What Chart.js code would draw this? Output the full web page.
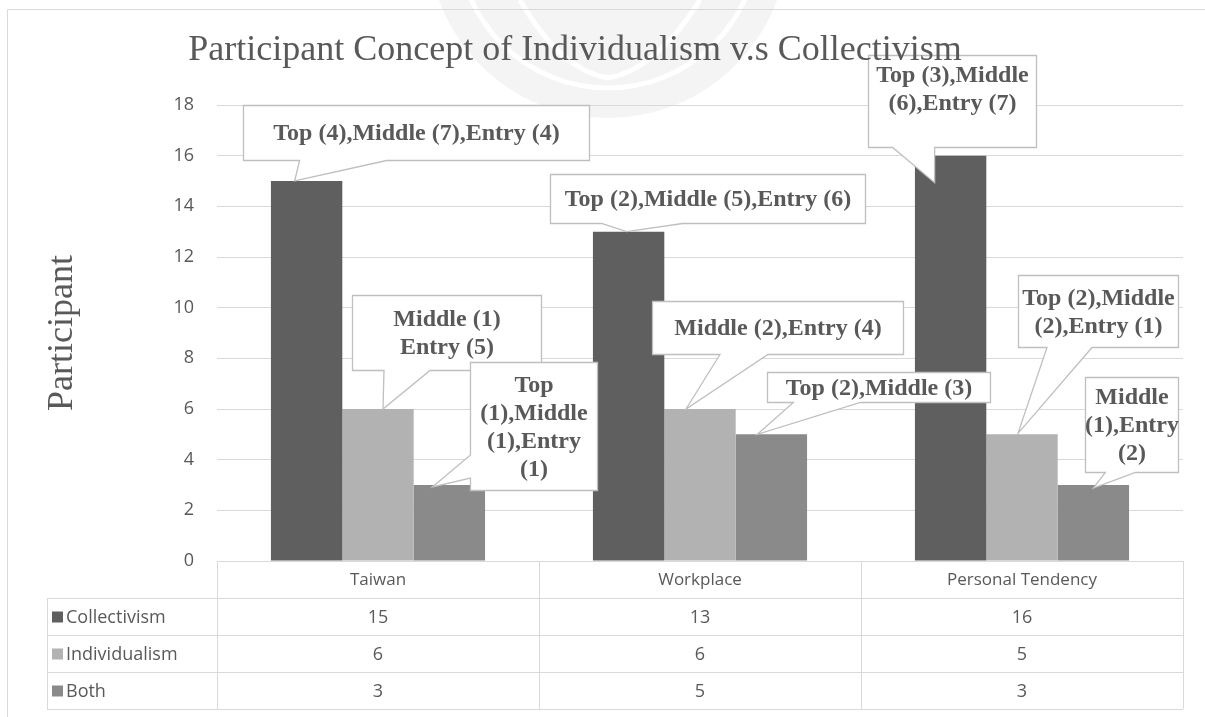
<!DOCTYPE html>
<html><head><meta charset="utf-8">
<script src="https://cdn.jsdelivr.net/npm/chart.js@4.4.1/dist/chart.umd.min.js"></script>
<style>html,body{margin:0;padding:0;background:#fff;}canvas{display:block;}</style>
</head><body>
<canvas id="c" width="1205" height="717"></canvas>
<script>
// ---- data ----
const categories = ["Taiwan", "Workplace", "Personal Tendency"];
const seriesNames = ["Collectivism", "Individualism", "Both"];
const collectivism = [15, 13, 16];
const individualism = [6, 6, 5];
const both = [3, 5, 3];
const collectivismNotes = ["Top (4),Middle (7),Entry (4)", "Top (2),Middle (5),Entry (6)", "Top (3),Middle\n(6),Entry (7)"];
const individualismNotes = ["Middle (1)\nEntry (5)", "Middle (2),Entry (4)", "Top (2),Middle\n(2),Entry (1)"];
const bothNotes = ["Top\n(1),Middle\n(1),Entry\n(1)", "Top (2),Middle (3)", "Middle\n(1),Entry\n(2)"];
const yMin = 0, yMax = 18, yStep = 2;
const chartTitle = "Participant Concept of Individualism v.s Collectivism";
const yTitle = "Participant";

// ---- styles ----
const colors = ["#5f5f5f", "#b2b2b2", "#8a8a8a"];
const textColor = "#595959";
const lineColor = "#d9d9d9";
const uiFont = "'Open Sans', sans-serif";
const serif = "'Liberation Serif', 'Times New Roman', serif";

// callout geometry relative to the top-centre of the bar it points at
const calloutLayout = [
  [ {box:[-64,-76,282,-21], side:'bottom', base:[-7,80], tip:[-12,0]},
    {box:[-79,-58,236,-9], side:'bottom', base:[-27,54], tip:[-2,0]},
    {box:[-83,-101,85,-9], side:'bottom', base:[-58,-16], tip:[-16,27], textTop:19} ],
  [ {box:[-26,-114,163,-39], side:'bottom', base:[6,52], tip:[5,0]},
    {box:[-48,-108,203,-55], side:'bottom', base:[20,68], tip:[-14,0]},
    {box:[-4,-159,156,-87], side:'bottom', base:[25,70], tip:[-4,-1]} ],
  [ {box:[21,-123,148,5], side:'left', base:[-30,-7], tip:[-17,2]},
    {box:[-4,-62,219,-32], side:'bottom', base:[22,89], tip:[-14,0]},
    {box:[-8,-108,85,-13], side:'bottom', base:[12,42], tip:[0,3]} ]
];
const notes = [collectivismNotes, individualismNotes, bothNotes];
const seriesValues = [collectivism, individualism, both];

const decor = {
  id: 'decor',
  beforeDraw(chart) {
    const c = chart.ctx;
    c.save();
    c.fillStyle = '#fff';
    c.fillRect(0, 0, chart.width, chart.height);
    // faint watermark emblem behind the chart
    c.fillStyle = '#f4f4f4';
    c.beginPath(); c.arc(608, -62, 180, 0, Math.PI * 2); c.fill();
    c.strokeStyle = '#ffffff'; c.lineWidth = 5;
    c.beginPath(); c.arc(608, -62, 150, 0, Math.PI * 2); c.stroke();
    c.beginPath();
    c.moveTo(520, 0); c.quadraticCurveTo(560, 70, 608, 78); c.quadraticCurveTo(656, 70, 700, 0);
    c.stroke();
    // frame
    c.strokeStyle = lineColor; c.lineWidth = 1;
    c.beginPath();
    c.moveTo(7.5, chart.height); c.lineTo(7.5, 9.5); c.lineTo(chart.width, 9.5);
    c.stroke();
    c.restore();
  },
  afterDraw(chart) {
    const c = chart.ctx, ca = chart.chartArea;
    // ---- data table ----
    const n = categories.length;
    const catW = (ca.right - ca.left) / n;
    const rowH = 37, top = ca.bottom, legLeft = 47;
    const nRows = seriesNames.length;
    const bottom = top + rowH * (nRows + 1);
    c.save();
    c.strokeStyle = lineColor; c.lineWidth = 1;
    c.beginPath();
    c.moveTo(ca.left, top + 0.5); c.lineTo(ca.right, top + 0.5);
    for (let r = 1; r <= nRows + 1; r++) {
      const y = Math.round(top + r * rowH) + 0.5;
      c.moveTo(legLeft, y); c.lineTo(ca.right, y);
    }
    for (let k = 0; k <= n; k++) {
      const x = Math.round(ca.left + k * catW) + 0.5;
      c.moveTo(x, top); c.lineTo(x, bottom);
    }
    c.moveTo(legLeft + 0.5, top + rowH); c.lineTo(legLeft + 0.5, bottom);
    c.stroke();
    c.fillStyle = textColor;
    c.font = "17px " + uiFont;
    c.textAlign = 'center'; c.textBaseline = 'middle';
    categories.forEach((cat, k) => {
      c.fillText(cat, chart.scales.x.getPixelForValue(k), top + rowH / 2 + 1);
    });
    c.font = "18px " + uiFont;
    seriesNames.forEach((s, r) => {
      const yc = top + (r + 1.5) * rowH + 1;
      c.fillStyle = colors[r];
      c.fillRect(legLeft + 5, yc - 6, 11, 11);
      c.fillStyle = textColor;
      c.textAlign = 'left';
      c.fillText(s, legLeft + 19, yc);
      c.textAlign = 'center';
      seriesValues[r].forEach((v, k) => {
        c.fillText(String(v), chart.scales.x.getPixelForValue(k), yc);
      });
    });
    // ---- callouts ----
    c.font = "bold 24px " + serif;
    notes.forEach((arr, d) => {
      const meta = chart.getDatasetMeta(d);
      arr.forEach((txt, k) => {
        const bar = meta.data[k];
        const L = calloutLayout[d][k];
        const bx = bar.x, by = bar.y;
        const x1 = Math.round(bx + L.box[0]) + 0.5, y1 = Math.round(by + L.box[1]) + 0.5;
        const x2 = Math.round(bx + L.box[2]) + 0.5, y2 = Math.round(by + L.box[3]) + 0.5;
        const tx = bx + L.tip[0], ty = by + L.tip[1];
        c.beginPath();
        c.moveTo(x1, y1); c.lineTo(x2, y1); c.lineTo(x2, y2);
        if (L.side === 'bottom') {
          c.lineTo(bx + L.base[1], y2); c.lineTo(tx, ty); c.lineTo(bx + L.base[0], y2);
          c.lineTo(x1, y2);
        } else {
          c.lineTo(x1, y2);
          c.lineTo(x1, by + L.base[1]); c.lineTo(tx, ty); c.lineTo(x1, by + L.base[0]);
        }
        c.closePath();
        c.fillStyle = '#fff'; c.fill();
        c.strokeStyle = '#bfbfbf'; c.lineWidth = 1.3; c.stroke();
        const lines = txt.split("\n");
        const lh = 28;
        const cx = (x1 + x2) / 2;
        let firstY = L.textTop !== undefined ? y1 + L.textTop : (y1 + y2) / 2 - (lines.length - 1) * lh / 2;
        c.fillStyle = textColor; c.textAlign = 'center'; c.textBaseline = 'middle';
        lines.forEach((ln, i) => c.fillText(ln, cx, firstY + i * lh + 1));
      });
    });
    // ---- chart title (on top) ----
    c.fillStyle = textColor;
    c.font = "36px " + serif;
    c.textAlign = 'center'; c.textBaseline = 'alphabetic';
    c.fillText(chartTitle, 575, 60);
    c.restore();
  }
};

new Chart(document.getElementById('c'), {
  type: 'bar',
  data: {
    labels: categories,
    datasets: seriesNames.map((s, i) => ({
      label: s, data: seriesValues[i], backgroundColor: colors[i], borderWidth: 0,
      categoryPercentage: 0.665, barPercentage: 1.0
    }))
  },
  options: {
    responsive: false, animation: false,
    layout: { padding: { left: 40, right: 22, top: 105, bottom: 8 } },
    plugins: {
      legend: { display: false }, tooltip: { enabled: false },
      title: { display: false }
    },
    scales: {
      x: { grid: { display: false }, border: { display: false }, ticks: { display: false },
        afterFit: s => { s.height = 148; } },
      y: { min: yMin, max: yMax,
        ticks: { stepSize: yStep, color: textColor, font: { family: uiFont, size: 18 }, padding: 23 },
        grid: { color: lineColor, drawTicks: false, lineWidth: 1 },
        border: { display: false },
        title: { display: true, text: yTitle, color: textColor,
          font: { family: serif, size: 36, weight: 'normal' }, padding: { top: 1, bottom: 0 } },
        afterFit: s => { s.width = 177; } }
    }
  },
  plugins: [decor]
});
</script>
</body></html>
